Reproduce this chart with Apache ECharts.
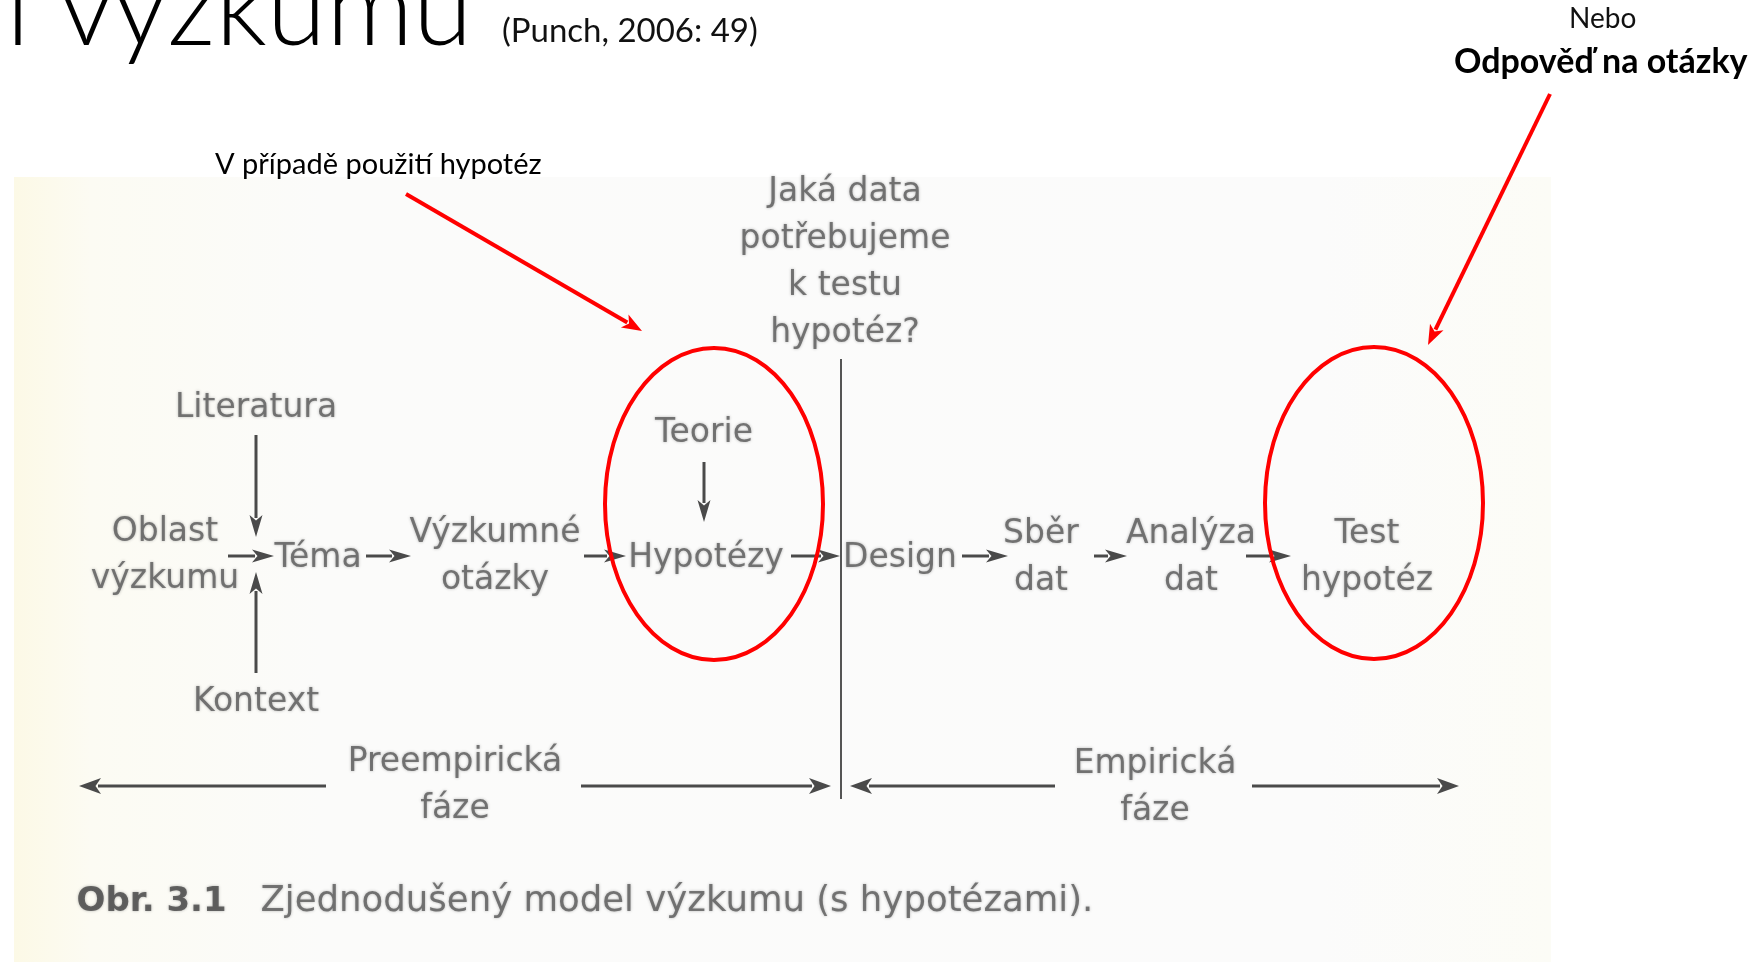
<!DOCTYPE html>
<html>
<head>
<meta charset="utf-8">
<script src="https://cdn.jsdelivr.net/npm/echarts@6/dist/echarts.min.js"></script>
<style>
  html, body { margin: 0; padding: 0; background: #fff; }
  #chart { width: 1760px; height: 962px; }
</style>
</head>
<body>
<div id="chart"></div>
<script>
// uzly diagramu (souradnice v prostoru 1760 x 962)
const nodeNames = ['Literatura', 'Oblast\nvýzkumu', 'Téma', 'Výzkumné\notázky', 'Teorie', 'Hypotézy',
  'Design', 'Sběr\ndat', 'Analýza\ndat', 'Test\nhypotéz', 'Kontext',
  'Jaká data\npotřebujeme\nk testu\nhypotéz?', 'Preempirická\nfáze', 'Empirická\nfáze'];
const nodeX = [256, 165, 318, 495, 704, 706, 900, 1041, 1191, 1367, 256, 845, 455, 1155];
const nodeY = [408, 556, 558, 557, 433, 558, 558, 558, 558, 558, 702, 263, 786, 788];

// sipky toku [x1, y1, x2, y2]
const flowArrows = [
  [256, 435, 256, 537],
  [256, 673, 256, 572],
  [228, 556, 274, 556],
  [366, 556, 411, 556],
  [584, 556, 626, 556],
  [704, 462, 704, 522],
  [791, 556, 840, 556],
  [962, 556, 1008, 556],
  [1094, 556, 1127, 556],
  [1246, 556, 1291, 556]
];
const phaseArrows = [
  [326, 786, 79, 786],
  [581, 786, 831, 786],
  [1055, 786, 850, 786],
  [1252, 786, 1459, 786]
];
const divider = [[841, 359, 841, 799]];

// cervene poznamky
const redArrows = [
  [406, 194, 642, 331],
  [1550, 94, 1428, 345]
];
const redEllipses = [ // cx, cy, rx, ry
  [714, 504, 109, 156],
  [1374, 503, 109, 156]
];

const captionBold = 'Obr. 3.1';
const captionText = 'Zjednodušený model výzkumu (s hypotézami).';
const captionPos = [[76, 902], [260, 902]];

const GRAY = '#5a5a5a';
const LINE = '#4a4a4a';
const scanFont = 'DejaVu Sans';

const chart = echarts.init(document.getElementById('chart'));

/* sipka: cara + trojuhelnikova hlava */
const arrowRenderer = (color, width, headLen, headW) => (params, api) => {
  const p1 = api.coord([api.value(0), api.value(1)]);
  const p2 = api.coord([api.value(2), api.value(3)]);
  const dx = p2[0] - p1[0], dy = p2[1] - p1[1];
  const len = Math.hypot(dx, dy) || 1;
  const ux = dx / len, uy = dy / len;
  const nx = -uy, ny = ux;
  const bx = p2[0] - ux * headLen, by = p2[1] - uy * headLen;
  const children = [{
    type: 'line',
    shape: { x1: p1[0], y1: p1[1], x2: headLen ? bx + ux * 3 : p2[0], y2: headLen ? by + uy * 3 : p2[1] },
    style: { stroke: color, lineWidth: width }
  }];
  if (headLen) {
    children.push({
      type: 'polygon',
      shape: { points: [
        [p2[0], p2[1]],
        [bx + nx * headW / 2, by + ny * headW / 2],
        [bx + ux * headLen * 0.25, by + uy * headLen * 0.25],
        [bx - nx * headW / 2, by - ny * headW / 2]
      ] },
      style: { fill: color }
    });
  }
  return { type: 'group', children };
};

const blurText = {
  fontFamily: scanFont,
  fontSize: 33,
  lineHeight: 47,
  color: GRAY,
  textShadowColor: 'rgba(90,90,90,0.55)',
  textShadowBlur: 3
};

const option = {
  animation: false,
  backgroundColor: '#ffffff',
  title: [
    { text: 'l výzkumu', left: 6, top: -44, padding: 0,
      textStyle: { fontFamily: 'Lato', fontWeight: 300, fontSize: 108, color: '#000' } },
    { text: '(Punch, 2006: 49)', left: 502, top: 15, padding: 0,
      textStyle: { fontFamily: 'Lato', fontWeight: 'normal', fontSize: 33, color: '#111' } },
    { text: 'Nebo', left: 1569, top: 5, padding: 0,
      textStyle: { fontFamily: 'Lato', fontWeight: 'normal', fontSize: 28, color: '#111' } },
    { text: 'Odpověď na otázky', left: 1454, top: 45, padding: 0,
      textStyle: { fontFamily: 'Lato', fontWeight: 'bold', fontSize: 34, color: '#000' } },
    { text: 'V případě použití hypotéz', left: 215, top: 150, padding: 0,
      textStyle: { fontFamily: 'Lato', fontWeight: 'normal', fontSize: 29, color: '#000' } }
  ],
  graphic: [{
    type: 'rect',
    z: -10,
    shape: { x: 14, y: 177, width: 1537, height: 785 },
    style: {
      fill: new echarts.graphic.LinearGradient(0, 0, 1, 0, [
        { offset: 0, color: '#fcf9e6' },
        { offset: 0.05, color: '#fcfbf3' },
        { offset: 0.2, color: '#fbfbfa' },
        { offset: 0.85, color: '#fbfbfb' },
        { offset: 1, color: '#fcfcf6' }
      ])
    }
  }],
  grid: { left: 0, right: 0, top: 0, bottom: 0 },
  xAxis: { type: 'value', min: 0, max: 1760, show: false },
  yAxis: { type: 'value', min: 0, max: 962, inverse: true, show: false },
  series: [
    {
      type: 'scatter',
      silent: true,
      symbolSize: 1,
      itemStyle: { color: 'transparent' },
      label: { show: true, position: 'inside', formatter: p => p.name, ...blurText },
      data: nodeNames.map((n, i) => ({ name: n, value: [nodeX[i], nodeY[i]] })),
      z: 3
    },
    {
      type: 'scatter',
      silent: true,
      symbolSize: 1,
      itemStyle: { color: 'transparent' },
      label: { show: true, position: 'right', distance: 0, formatter: p => p.name, ...blurText, fontSize: 35.5 },
      data: [
        { name: captionBold, value: captionPos[0], label: { fontWeight: 'bold', color: '#454545', fontSize: 34 } },
        { name: captionText, value: captionPos[1] }
      ],
      z: 3
    },
    {
      type: 'custom',
      silent: true,
      renderItem: arrowRenderer(LINE, 3, 22, 13),
      dimensions: ['x1', 'y1', 'x2', 'y2'],
      encode: { x: [0, 2], y: [1, 3] },
      data: flowArrows,
      z: 4
    },
    {
      type: 'custom',
      silent: true,
      renderItem: arrowRenderer(LINE, 3, 22, 16),
      encode: { x: [0, 2], y: [1, 3] },
      data: phaseArrows,
      z: 4
    },
    {
      type: 'custom',
      silent: true,
      renderItem: arrowRenderer('#555', 2, 0, 0),
      encode: { x: [0, 2], y: [1, 3] },
      data: divider,
      z: 4
    },
    {
      type: 'custom',
      silent: true,
      renderItem: arrowRenderer('#ff0000', 4, 20, 15),
      encode: { x: [0, 2], y: [1, 3] },
      data: redArrows,
      z: 6
    },
    {
      type: 'custom',
      silent: true,
      renderItem: (params, api) => {
        const c = api.coord([api.value(0), api.value(1)]);
        const s = api.size([api.value(2), api.value(3)]);
        return {
          type: 'ellipse',
          shape: { cx: c[0], cy: c[1], rx: s[0], ry: s[1] },
          style: { fill: 'none', stroke: '#ff0000', lineWidth: 4 }
        };
      },
      encode: { x: 0, y: 1 },
      data: redEllipses,
      z: 6
    }
  ]
};

chart.setOption(option);
window.addEventListener('resize', () => chart.resize());
</script>
</body>
</html>
